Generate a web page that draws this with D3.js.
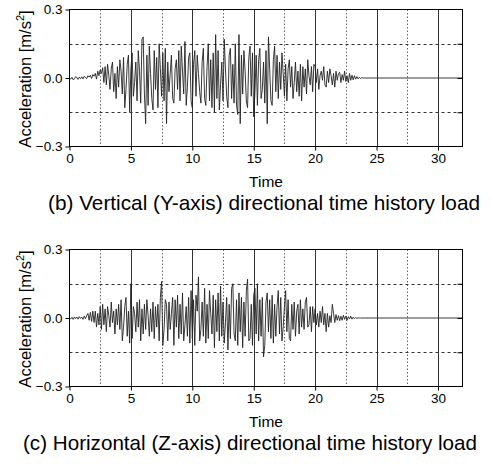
<!DOCTYPE html>
<html>
<head>
<meta charset="utf-8">
<script src="https://cdn.jsdelivr.net/npm/d3@7"></script>
<style>
  body { margin: 0; background: #fff; }
  text { font-family: "Liberation Sans", Arial, sans-serif; fill: #000; }
</style>
</head>
<body>
<script>
// acceleration samples [m/s^2], one every 0.1 s (t = 0 .. 24 s)
var timeStep = 0.1;
var verticalY = [
  0, -0.005, 0.003, -0.008, -0.004, 0.006, 0.002, -0.006, 0.004, -0.003,
  0.005, -0.004, 0.008, 0.002, -0.003, 0.01, 0.004, 0.012, -0.002, 0.015,
  0.008, 0.02, -0.005, 0.03, 0.01, 0.035, 0.02, 0.045, -0.02, 0.05,
  -0.03, 0.06, 0.01, -0.05, 0.04, 0.07, -0.06, 0.02, -0.09, 0.05,
  -0.04, 0.08, 0.03, -0.07, 0.09, -0.13, -0.05, 0.06, 0.1, -0.15,
  0.04, 0.11, -0.08, -0.02, 0.07, -0.1, 0.12, 0.03, -0.11, 0.17,
  0.18, -0.07, -0.2, 0.1, -0.12, 0.14, 0.02, -0.09, -0.14, 0.12,
  -0.05, 0.09, -0.13, 0.15, 0.04, -0.08, 0.11, -0.1, 0.13, -0.2,
  0.07, -0.06, 0.02, 0.1, -0.09, -0.11, 0.04, 0.08, -0.05, 0.12,
  -0.1, 0.14, 0.03, -0.07, 0.16, -0.12, -0.04, 0.09, 0.11, -0.1,
  -0.13, 0.06, 0.12, -0.08, 0.1, 0.02, -0.06, -0.11, 0.07, 0.13,
  -0.09, -0.12, 0.05, 0.15, -0.1, 0.08, -0.13, 0.11, -0.15, 0.19,
  -0.09, 0.12, -0.14, -0.03, 0.07, -0.1, 0.17, 0.04, -0.08, -0.13,
  0.1, 0.13, -0.09, 0.06, -0.11, 0.15, -0.12, -0.16, 0.19, -0.2,
  0.1, -0.07, 0.12, 0.03, -0.1, -0.13, 0.09, 0.14, -0.08, 0.11,
  -0.17, -0.06, 0.1, -0.12, 0.08, 0.13, -0.09, -0.05, 0.07, -0.11,
  0.12, -0.2, 0.18, 0.04, -0.1, -0.12, 0.08, 0.14, -0.06, 0.1,
  -0.09, 0.07, -0.05, 0.11, 0.02, -0.08, 0.06, -0.1, 0.04, 0.08,
  -0.04, 0.05, -0.09, -0.02, 0.07, -0.06, 0.03, -0.08, 0.06, -0.1,
  0.05, -0.04, 0.04, -0.07, 0.08, 0.01, -0.03, 0.05, -0.06, 0.06,
  0.05, -0.02, 0.04, -0.05, 0.01, 0.03, -0.01, 0.05, -0.03, -0.04,
  0.03, -0.02, 0.04, 0.01, -0.03, 0.02, -0.04, 0.03, -0.01, 0.02,
  0.025, -0.02, 0.015, -0.01, 0.03, -0.015, 0.01, -0.02, 0.02, -0.01,
  0.012, -0.008, 0.01, -0.005, 0.006, -0.004, 0.003, -0.002, 0.002, 0,
  0
];
var horizontalZ = [
  0, -0.004, 0.003, -0.006, 0.005, -0.003, 0.004, -0.005, 0.006, -0.002,
  0.004, -0.006, 0.008, -0.003, 0.01, 0.02, -0.01, 0.025, -0.015, 0.03,
  -0.02, 0.03, -0.04, 0.02, -0.03, 0.05, -0.05, 0.06, -0.03, 0.04,
  -0.06, 0.05, 0.01, -0.04, 0.07, -0.02, 0.03, -0.07, 0.04, -0.03,
  0.06, -0.05, 0.08, -0.1, -0.04, 0.05, 0.09, -0.08, 0.03, -0.11,
  0.15, -0.09, 0.05, 0.02, -0.06, 0.07, -0.04, 0.08, -0.1, 0.04,
  -0.07, 0.06, -0.05, 0.08, 0.01, -0.08, 0.04, -0.06, 0.07, -0.09,
  0.05, -0.04, 0.06, -0.1, 0.09, 0.16, -0.12, -0.05, 0.08, 0.06,
  -0.1, 0.07, -0.05, 0.02, 0.09, -0.12, 0.08, -0.04, 0.1, -0.09,
  0.06, -0.07, 0.11, -0.1, -0.03, 0.05, -0.08, 0.09, -0.11, 0.12,
  -0.09, 0.08, -0.12, 0.1, 0.03, 0.18, -0.1, -0.05, 0.07, -0.08,
  0.13, -0.11, 0.06, -0.09, 0.12, 0.02, -0.07, 0.1, -0.13, 0.08,
  -0.06, 0.11, -0.1, 0.14, -0.08, 0.07, -0.11, -0.02, 0.09, -0.14,
  0.06, -0.09, 0.13, 0.15, -0.07, -0.1, 0.08, -0.12, 0.11, -0.06,
  0.09, -0.13, 0.07, -0.08, 0.12, 0.17, -0.1, -0.09, 0.06, -0.12,
  0.1, 0.13, -0.07, 0.15, -0.1, 0.08, -0.08, 0.09, -0.17, -0.12,
  0.07, 0.11, -0.06, 0.08, -0.09, 0.1, -0.11, 0.06, -0.08, 0.05,
  0.12, -0.07, 0.09, -0.1, -0.04, 0.05, 0.12, -0.06, 0.08, -0.09,
  -0.1, 0.06, -0.05, 0.07, -0.08, 0.03, 0.06, -0.07, 0.08, -0.04,
  0.04, -0.05, 0.07, 0.09, -0.04, -0.03, 0.05, -0.06, 0.05, -0.02,
  0.04, -0.03, 0.02, -0.04, 0.03, -0.02, 0.05, -0.03, 0.02, -0.06,
  0.02, -0.04, 0.01, -0.02, 0.06, 0.02, -0.02, 0.015, -0.01, 0.01,
  -0.012, 0.008, -0.01, 0.012, -0.006, 0.008, -0.01, 0.006, -0.004, 0.008,
  -0.005, 0.004, -0.003, 0.002, -0.002, 0.001, 0, 0, 0, 0,
  0
];
// record is flat (zero) from 24 s to the end of the axis
var tailPoint = { t: 32, v: 0 };

var xDomain = [0, 32];
var yDomain = [-0.3, 0.3];
var xTickLabels = [0, 5, 10, 15, 20, 25, 30];
var yTickLabels = [-0.3, 0.0, 0.3];
var yGridValues = [-0.15, 0.15];
var xGridValues = [2.5, 5, 7.5, 10, 12.5, 15, 17.5, 20, 22.5, 25, 27.5, 30];
var captions = [
  "(b) Vertical (Y-axis) directional time history load",
  "(c) Horizontal (Z-axis) directional time history load"
];

var W = 492, H = 464;
var plotLeft = 69.5, plotRight = 462.5, plotTop = 9.5, plotBottom = 146.5;

var svg = d3.select("body").append("svg")
    .attr("width", W)
    .attr("height", H);

var x = d3.scaleLinear().domain(xDomain).range([plotLeft, plotRight]);
var y = d3.scaleLinear().domain(yDomain).range([plotBottom, plotTop]);

var line = d3.line()
    .x(function(d) { return x(d.t); })
    .y(function(d) { return y(d.v); });

function drawPanel(offsetY, values, caption, captionX, captionLen) {
    var g = svg.append("g")
        .attr("transform", "translate(0," + offsetY + ")");

    // grid
    g.selectAll("line.vgrid")
        .data(xGridValues)
      .enter().append("line")
        .attr("class", "vgrid")
        .attr("x1", function(d) { return Math.round(x(d)) + 0.5; })
        .attr("x2", function(d) { return Math.round(x(d)) + 0.5; })
        .attr("y1", plotTop)
        .attr("y2", plotBottom)
        .attr("stroke", function(d) { return d % 5 === 0 ? "#333" : "#666"; })
        .attr("stroke-width", 1)
        .attr("stroke-dasharray", function(d) { return d % 5 === 0 ? null : "1.5,2"; });

    g.selectAll("line.hgrid")
        .data(yGridValues)
      .enter().append("line")
        .attr("class", "hgrid")
        .attr("x1", plotLeft)
        .attr("x2", plotRight)
        .attr("y1", function(d) { return Math.round(y(d)) + 0.5; })
        .attr("y2", function(d) { return Math.round(y(d)) + 0.5; })
        .attr("stroke", "#333")
        .attr("stroke-width", 1)
        .attr("stroke-dasharray", "3,3");

    // time history
    var pts = values.map(function(v, i) { return { t: i * timeStep, v: v }; });
    pts.push(tailPoint);

    g.append("path")
        .datum(pts)
        .attr("fill", "none")
        .attr("stroke", "#222")
        .attr("stroke-width", 0.9)
        .attr("stroke-linejoin", "round")
        .attr("d", line);

    // frame
    g.append("rect")
        .attr("x", plotLeft)
        .attr("y", plotTop)
        .attr("width", plotRight - plotLeft)
        .attr("height", plotBottom - plotTop)
        .attr("fill", "none")
        .attr("stroke", "#000")
        .attr("stroke-width", 1);

    // axes
    var xAxis = d3.axisBottom(x)
        .tickValues(xTickLabels)
        .tickSizeInner(4)
        .tickSizeOuter(0)
        .tickPadding(3)
        .tickFormat(d3.format("d"));

    var yAxis = d3.axisLeft(y)
        .tickValues(yTickLabels)
        .tickSizeInner(4)
        .tickSizeOuter(0)
        .tickPadding(3)
        .tickFormat(d3.format(".1f"));

    var gx = g.append("g")
        .attr("transform", "translate(0," + plotBottom + ")")
        .call(xAxis);
    var gy = g.append("g")
        .attr("transform", "translate(" + plotLeft + ",0)")
        .call(yAxis);

    // inward ticks on the right side
    g.append("g")
        .attr("transform", "translate(" + plotRight + ",0)")
        .call(d3.axisRight(y).tickValues([-0.15, 0, 0.15]).tickSizeInner(-5).tickSizeOuter(0).tickFormat(""));

    [gx, gy].forEach(function(a) {
        a.selectAll("line").attr("stroke", "#000");
        a.selectAll("text")
            .style("font-family", "'Liberation Sans', Arial, sans-serif")
            .style("font-size", "13.5px")
            .attr("fill", "#000");
    });
    g.selectAll(".domain").remove();

    // axis titles
    g.append("text")
        .attr("x", (plotLeft + plotRight) / 2)
        .attr("y", 187)
        .attr("text-anchor", "middle")
        .style("font-size", "15.5px")
        .text("Time");

    var yl = g.append("text")
        .attr("transform", "translate(31,79) rotate(-90)")
        .attr("text-anchor", "middle")
        .style("font-size", "16.5px");
    yl.append("tspan").text("Acceleration [m/s");
    yl.append("tspan").attr("dy", -7).style("font-size", "11px").text("2");
    yl.append("tspan").attr("dy", 7).text("]");

    // caption
    g.append("text")
        .attr("x", captionX)
        .attr("y", 210)
        .attr("text-anchor", "middle")
        .attr("textLength", captionLen)
        .attr("lengthAdjust", "spacingAndGlyphs")
        .style("font-size", "21px")
        .text(caption);
}

drawPanel(0, verticalY, captions[0], 264, 432);
drawPanel(240, horizontalZ, captions[1], 250, 454);
</script>
</body>
</html>
